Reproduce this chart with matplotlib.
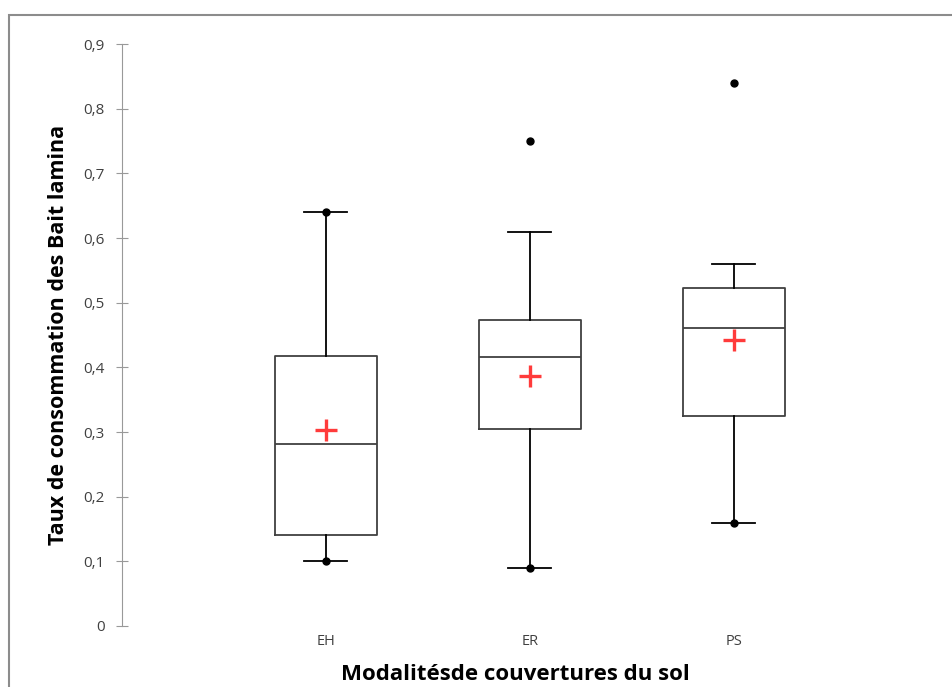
import matplotlib.pyplot as plt
from matplotlib.patches import Rectangle
from matplotlib.ticker import FuncFormatter

plt.rcParams['font.family'] = ['Open Sans', 'DejaVu Sans']

# box plot summary values
categories = ["EH", "ER", "PS"]
q1 = [0.141, 0.305, 0.325]
median = [0.281, 0.416, 0.461]
q3 = [0.417, 0.473, 0.523]
whisk_lo = [0.10, 0.09, 0.16]
whisk_hi = [0.64, 0.61, 0.56]
means = [0.303, 0.387, 0.442]
mins = [0.10, 0.09, 0.16]
maxs = [0.64, 0.75, 0.84]

positions = [1, 2, 3]

fig = plt.figure(figsize=(9.52, 6.87), dpi=100)
ax = fig.add_axes([0.128, 0.0888, 0.857, 0.847])

stats = []
for i, cat in enumerate(categories):
    stats.append(dict(label=cat, q1=q1[i], med=median[i], q3=q3[i],
                      whislo=whisk_lo[i], whishi=whisk_hi[i], mean=means[i], fliers=[]))

ax.bxp(stats, positions=positions, widths=0.5, showmeans=True, showfliers=False,
       boxprops=dict(color="#404040", linewidth=1.3),
       medianprops=dict(color="#404040", linewidth=1.3),
       whiskerprops=dict(color="black", linewidth=1.3),
       capprops=dict(color="black", linewidth=1.3),
       capwidths=0.21,
       meanprops=dict(marker="+", markeredgecolor="#ff3b3b", markersize=16,
                      markeredgewidth=2.4))

# min / max points
ax.plot(positions, mins, "o", color="black", markersize=5, linestyle="none")
ax.plot(positions, maxs, "o", color="black", markersize=5, linestyle="none")

ax.set_xlim(0, 4)
ax.set_ylim(0, 0.9)
ax.set_yticks([i / 10 for i in range(10)])
ax.yaxis.set_major_formatter(FuncFormatter(lambda v, p: "0" if v == 0 else f"{v:.1f}".replace(".", ",")))
ax.set_xticks(positions)
ax.set_xticklabels(categories)

for s in ["top", "right", "bottom"]:
    ax.spines[s].set_visible(False)
ax.spines["left"].set_color("#999999")
ax.tick_params(axis="y", direction="inout", length=9, color="#999999",
               labelsize=11, labelcolor="#404040", pad=8)
ax.tick_params(axis="x", length=0, labelsize=10.5, labelcolor="#404040", pad=6)

ax.set_ylabel("Taux de consommation des Bait lamina", fontsize=15.5,
              fontweight="bold", labelpad=10)
ax.set_xlabel("Modalitésde couvertures du sol", fontsize=16, fontweight="bold",
              labelpad=6)
ax.xaxis.set_label_coords(0.482, -0.066)

# outer frame of the original chart area
fig.patches.append(Rectangle((0.0095, -0.1), 1.2, 1.078, transform=fig.transFigure,
                             fill=False, edgecolor="#8c8c8c", linewidth=1.5))

fig.savefig("out.png", dpi=100)
